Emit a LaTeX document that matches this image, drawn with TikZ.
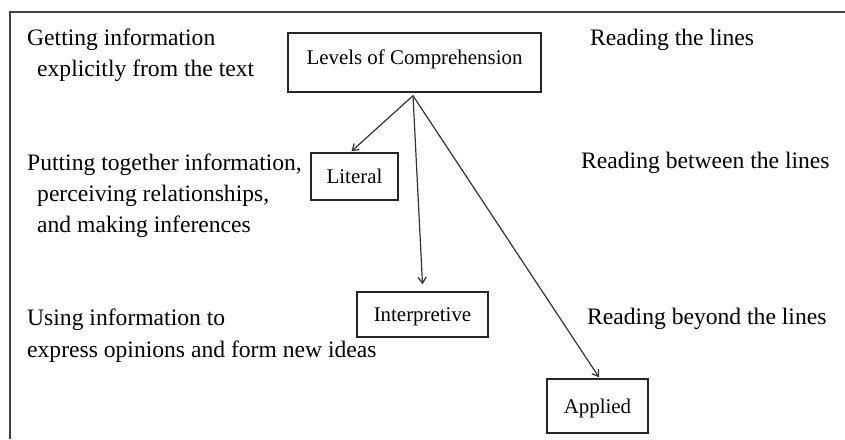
\documentclass[tikz,border=0pt]{standalone}
\usepackage{fontspec}
\setmainfont{Liberation Serif}
\usetikzlibrary{arrows.meta,calc}
\begin{document}
\begin{tikzpicture}[x=1pt,y=-1pt,
  side/.style={anchor=base west, inner sep=0pt, font=\fontsize{23.6}{28}\selectfont, text=black},
  cbox/.style={draw=black!85, line width=1.4pt, rectangle, inner sep=0pt,
    font=\fontsize{20.9}{25}\selectfont, text=black, text height=14pt, text depth=0pt},
  arr/.style={draw=black!80, line width=1.2pt, -{Straight Barb[length=6pt,width=8pt]}},
  frame/.style={draw=black!75, line width=2pt}
]
\useasboundingbox (0,0) rectangle (845,439);
\draw[frame] (845,12) -- (10,12) -- (10,439);

% boxes
\node[cbox, minimum width=253pt, minimum height=59pt, text depth=11pt] (lev) at (414.5,62.5) {Levels of Comprehension};
\node[cbox, minimum width=87pt, minimum height=47pt] (lit) at (354.5,176.5) {Literal};
\node[cbox, minimum width=131pt, minimum height=45pt] (int) at (422.5,314.5) {Interpretive};
\node[cbox, minimum width=101pt, minimum height=54pt] (app) at (597.5,406) {Applied};

% side texts
\node[side] (g1) at (27,45) {Getting information};
\node[side] (g2) at (37,76) {explicitly from the text};
\node[side] (r1) at (590,45) {Reading the lines};
\node[side] (p1) at (27,170) {Putting together information,};
\node[side] (p2) at (37,201) {perceiving relationships,};
\node[side] (p3) at (37,232) {and making inferences};
\node[side] (r2) at (581,168) {Reading between the lines};
\node[side] (u1) at (27,325) {Using information to};
\node[side] (u2) at (27,357) {express opinions and form new ideas};
\node[side] (r3) at (587,324) {Reading beyond the lines};

% connectors
\coordinate (src) at ([xshift=-1.5pt,yshift=-3pt]lev.south);
\draw[arr] (src) -- ([xshift=-3pt,yshift=1pt]lit.north);
\draw[arr] (src) -- ([yshift=7pt]int.north);
\draw[arr] (src) -- ([xshift=1.5pt,yshift=1pt]app.north);
\end{tikzpicture}
\end{document}
